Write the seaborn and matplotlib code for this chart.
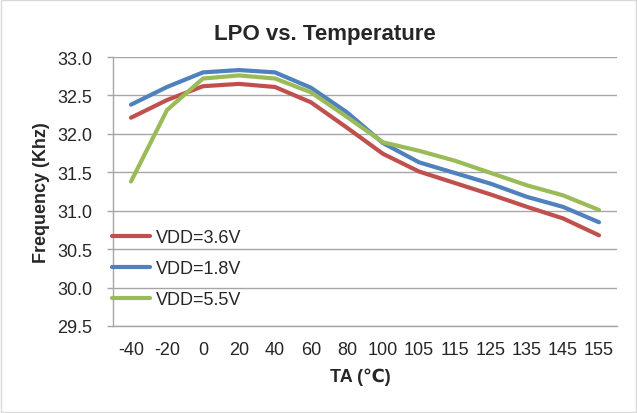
import numpy as np
import pandas as pd
import matplotlib
matplotlib.use("Agg")
import matplotlib.pyplot as plt
import seaborn as sns

temps = ["-40", "-20", "0", "20", "40", "60", "80", "100", "105", "115", "125", "135", "145", "155"]
vdd_36 = [32.21, 32.44, 32.62, 32.65, 32.61, 32.41, 32.08, 31.74, 31.51, 31.36, 31.21, 31.05, 30.90, 30.68]
vdd_18 = [32.38, 32.61, 32.80, 32.83, 32.80, 32.60, 32.28, 31.88, 31.63, 31.49, 31.35, 31.18, 31.05, 30.85]
vdd_55 = [31.38, 32.31, 32.72, 32.76, 32.72, 32.54, 32.22, 31.89, 31.78, 31.65, 31.49, 31.33, 31.20, 31.01]
series_names = ["VDD=3.6V", "VDD=1.8V", "VDD=5.5V"]
colors = ["#C0504D", "#4F81BD", "#9BBB59"]

rows = []
for name, vals in zip(series_names, [vdd_36, vdd_18, vdd_55]):
    for i, (t, v) in enumerate(zip(temps, vals)):
        rows.append({"idx": i, "temp": t, "freq": v, "series": name})
df = pd.DataFrame(rows)

sns.set_style("white")
plt.rcParams['font.family'] = ['Liberation Sans', 'DejaVu Sans', 'Noto Sans CJK SC']

FS = 13
fig = plt.figure(figsize=(6.37, 4.14), dpi=100)
ax = fig.add_axes([113/637, 1-327/414, 504/637, 269/414])

sns.lineplot(data=df, x="idx", y="freq", hue="series", hue_order=series_names,
             palette=colors, linewidth=3.0, ax=ax, legend=True)

ax.set_xlim(-0.5, len(temps) - 0.5)
ax.set_ylim(29.5, 33.0)
yt = np.arange(29.5, 33.01, 0.5)
ax.set_yticks(yt)
ax.set_yticklabels([f"{v:.1f}" for v in yt], fontsize=FS)
ax.yaxis.grid(True, color="#A6A6A6", linewidth=1)
ax.xaxis.grid(False)

ax.set_xticks(range(len(temps)))
ax.set_xticklabels(temps, fontsize=FS)
ax.set_xticks(np.arange(-0.5, len(temps), 1.0), minor=True)
ax.tick_params(axis="x", which="major", length=0, pad=11)
ax.tick_params(axis="x", which="minor", length=4, color="#A6A6A6", width=1, direction="out")
ax.tick_params(axis="y", which="major", length=4, color="#A6A6A6", width=1, direction="out", left=True, pad=11)

for s in ["top", "right"]:
    ax.spines[s].set_visible(False)
for s in ["left", "bottom"]:
    ax.spines[s].set_color("#A6A6A6")
    ax.spines[s].set_linewidth(1)

ax.set_xlabel("TA (℃)", fontsize=FS, fontweight="bold")
ax.xaxis.set_label_coords((360 - 113) / 504, -0.155, transform=ax.transAxes)
ax.xaxis.label.set_verticalalignment("top")
ax.set_ylabel("Frequency (Khz)", fontsize=FS, fontweight="bold", labelpad=5)
ax.set_title("LPO vs. Temperature", fontsize=16, fontweight="bold", pad=13,
             x=(324.5 - 113) / 504)

leg = ax.legend(loc="upper left", bbox_to_anchor=(-0.001, 0.36), frameon=False,
                fontsize=FS, handlelength=2.1, handletextpad=0.28, labelspacing=0.78,
                borderaxespad=0, borderpad=0)
for h in leg.get_lines():
    h.set_linewidth(3.0)

border = plt.Rectangle((0.002, 0.002), 0.996, 0.995, transform=fig.transFigure,
                       fill=False, edgecolor="#D9D9D9", linewidth=1)
fig.patches.append(border)

fig.savefig("out.png", dpi=100)
